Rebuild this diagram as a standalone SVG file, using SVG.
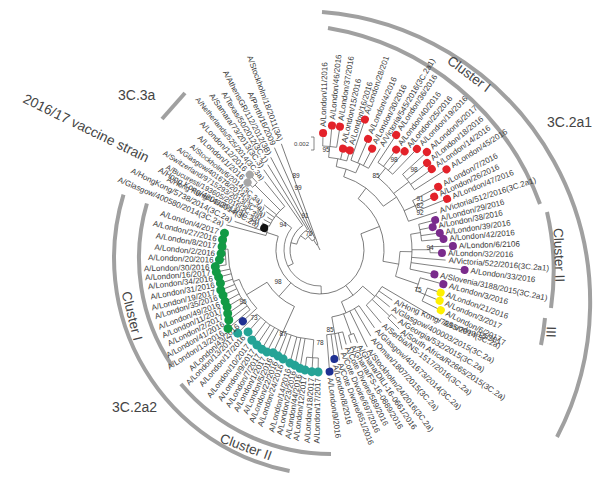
<svg xmlns="http://www.w3.org/2000/svg" width="611" height="488" viewBox="0 0 611 488">
<style>
text{font-family:"Liberation Sans",Arial,sans-serif}
.lb text{font-size:8px;fill:#3a3a3a;dominant-baseline:central}
.lb .f{text-anchor:end}
.lb .s{font-size:7.4px}
.bs text{font-size:6.5px;fill:#333;text-anchor:middle}
.big{font-size:14px;fill:#444}
.r{fill:#e3222a}.p{fill:#7a2b8c}.y{fill:#fff000}.t{fill:#25a396}.g{fill:#129a45}.b{fill:#1f3192}.k{fill:#111}.gr{fill:#a6a6a6}
.bar{fill:none;stroke:#a0a0a0;stroke-width:4}
</style>
<rect width="611" height="488" fill="#fff"/>
<g id="clade-bars" class="bar">
<path d="M322,12 A291,291 0 0 1 557,437"/>
<path d="M328,28 A274,274 0 0 1 540,204"/>
<path d="M547,212 A260,260 0 0 1 551,308"/>
<path d="M545,318 A246,246 0 0 1 541,345"/>
<path d="M289.6,471 A217,217 0 0 1 123.5,194.6"/>
<path d="M171.8,365.4 A192,192 0 0 1 146.9,203.5"/>
<path d="M331,454 A196,196 0 0 1 180.9,384"/>
<path d="M185,93 L162,119"/>
</g>
<g id="connectors" transform="translate(320,250)" fill="none" stroke="#555" stroke-width="0.7">
<circle r="104" pathLength="360" stroke-dasharray="7.7 360" transform="rotate(-88.5)"/>
<circle r="93" pathLength="360" stroke-dasharray="11.35 360" transform="rotate(-84.65)"/>
<circle r="95" pathLength="360" stroke-dasharray="11.7 360" transform="rotate(-71)"/>
<circle r="85" pathLength="360" stroke-dasharray="13.83 360" transform="rotate(-78.98)"/>
<circle r="105" pathLength="360" stroke-dasharray="10.3 360" transform="rotate(-56.5)"/>
<circle r="112" pathLength="360" stroke-dasharray="10 360" transform="rotate(-42.5)"/>
<circle r="105" pathLength="360" stroke-dasharray="6.2 360" transform="rotate(-28.1)"/>
<circle r="93" pathLength="360" stroke-dasharray="33.35 360" transform="rotate(-51.35)"/>
<circle r="77" pathLength="360" stroke-dasharray="37.39 360" transform="rotate(-72.07)"/>
<circle r="102" pathLength="360" stroke-dasharray="9.5 360" transform="rotate(-14.6)"/>
<circle r="110" pathLength="360" stroke-dasharray="3.1 360" transform="rotate(-1.7)"/>
<circle r="92" pathLength="360" stroke-dasharray="21.85 360" transform="rotate(-9.85)"/>
<circle r="114" pathLength="360" stroke-dasharray="7 360" transform="rotate(19.5)"/>
<circle r="104" pathLength="360" stroke-dasharray="7.5 360" transform="rotate(15.5)"/>
<circle r="80" pathLength="360" stroke-dasharray="18.17 360" transform="rotate(1.08)"/>
<circle r="64" pathLength="360" stroke-dasharray="63.55 360" transform="rotate(-53.38)"/>
<circle r="96" pathLength="360" stroke-dasharray="3 360" transform="rotate(42)"/>
<circle r="72" pathLength="360" stroke-dasharray="19.5 360" transform="rotate(30.5)"/>
<circle r="90" pathLength="360" stroke-dasharray="3.5 360" transform="rotate(68)"/>
<circle r="85" pathLength="360" stroke-dasharray="11 360" transform="rotate(74.5)"/>
<circle r="68" pathLength="360" stroke-dasharray="25 360" transform="rotate(55)"/>
<circle r="56" pathLength="360" stroke-dasharray="27.25 360" transform="rotate(40.25)"/>
<circle r="108" pathLength="360" stroke-dasharray="6.2 360" transform="rotate(90.9)"/>
<circle r="90" pathLength="360" stroke-dasharray="40.7 360" transform="rotate(94)"/>
<circle r="95" pathLength="360" stroke-dasharray="19 360" transform="rotate(171)"/>
<circle r="92" pathLength="360" stroke-dasharray="41 360" transform="rotate(139.5)"/>
<circle r="86" pathLength="360" stroke-dasharray="22.7 360" transform="rotate(137.3)"/>
<circle r="62" pathLength="360" stroke-dasharray="34.3 360" transform="rotate(114.35)"/>
<circle r="56" pathLength="360" stroke-dasharray="6.5 360" transform="rotate(195)"/>
<circle r="44" pathLength="360" stroke-dasharray="219.85 360" transform="rotate(-21.6)"/>
<circle r="92" pathLength="360" stroke-dasharray="4 360" transform="rotate(223)"/>
<circle r="56" pathLength="360" stroke-dasharray="26 360" transform="rotate(205)"/>
<circle r="36" pathLength="360" stroke-dasharray="129.7 360" transform="rotate(88.3)"/>
<circle r="30" pathLength="360" stroke-dasharray="81.85 360" transform="rotate(153.15)"/>
<circle r="24" pathLength="360" stroke-dasharray="44.4 360" transform="rotate(194.1)"/>
<circle r="18" pathLength="360" stroke-dasharray="25.7 360" transform="rotate(216.3)"/>
<circle r="12" pathLength="360" stroke-dasharray="16.85 360" transform="rotate(229.15)"/>
<circle r="6" pathLength="360" stroke-dasharray="12.4 360" transform="rotate(237.6)"/>
<line x1="93" x2="104" transform="rotate(-84.65)"/>
<line x1="85" x2="93" transform="rotate(-78.98)"/>
<line x1="85" x2="95" transform="rotate(-65.15)"/>
<line x1="77" x2="85" transform="rotate(-72.07)"/>
<line x1="93" x2="105" transform="rotate(-51.35)"/>
<line x1="93" x2="112" transform="rotate(-37.5)"/>
<line x1="93" x2="105" transform="rotate(-25)"/>
<line x1="77" x2="93" transform="rotate(-34.68)"/>
<line x1="64" x2="77" transform="rotate(-53.38)"/>
<line x1="92" x2="102" transform="rotate(-9.85)"/>
<line x1="92" x2="110" transform="rotate(-0.15)"/>
<line x1="80" x2="92" transform="rotate(1.08)"/>
<line x1="104" x2="114" transform="rotate(23)"/>
<line x1="80" x2="104" transform="rotate(19.25)"/>
<line x1="64" x2="80" transform="rotate(10.17)"/>
<line x1="44" x2="64" transform="rotate(-21.6)"/>
<line x1="72" x2="96" transform="rotate(43.5)"/>
<line x1="56" x2="72" transform="rotate(40.25)"/>
<line x1="68" x2="90" transform="rotate(69.75)"/>
<line x1="68" x2="85" transform="rotate(80)"/>
<line x1="56" x2="68" transform="rotate(67.5)"/>
<line x1="44" x2="56" transform="rotate(53.9)"/>
<line x1="90" x2="108" transform="rotate(94)"/>
<line x1="62" x2="90" transform="rotate(114.35)"/>
<line x1="92" x2="95" transform="rotate(180.5)"/>
<line x1="86" x2="92" transform="rotate(160)"/>
<line x1="62" x2="86" transform="rotate(148.65)"/>
<line x1="44" x2="62" transform="rotate(131.5)"/>
<line x1="44" x2="56" transform="rotate(198.25)"/>
<line x1="36" x2="44" transform="rotate(88.3)"/>
<line x1="56" x2="92" transform="rotate(225)"/>
<line x1="36" x2="56" transform="rotate(218)"/>
<line x1="30" x2="36" transform="rotate(153.15)"/>
<line x1="24" x2="30" transform="rotate(194.1)"/>
<line x1="18" x2="24" transform="rotate(216.3)"/>
<line x1="12" x2="18" transform="rotate(229.15)"/>
<line x1="6" x2="12" transform="rotate(237.6)"/>
<line x1="0" x2="6" transform="rotate(243.8)"/>
<line x1="104" x2="117" transform="rotate(-88.5)"/>
<line x1="104" x2="125" transform="rotate(-84.5)"/>
<line x1="104" x2="125" transform="rotate(-80.8)"/>
<line x1="93" x2="104" transform="rotate(-77.2)"/>
<line x1="93" x2="104" transform="rotate(-73.3)"/>
<line x1="95" x2="138" transform="rotate(-71)"/>
<line x1="95" x2="121" transform="rotate(-66.6)"/>
<line x1="95" x2="114" transform="rotate(-62.8)"/>
<line x1="95" x2="118" transform="rotate(-59.3)"/>
<line x1="105" x2="138" transform="rotate(-56.5)"/>
<line x1="105" x2="126" transform="rotate(-52.8)"/>
<line x1="105" x2="130" transform="rotate(-49.4)"/>
<line x1="105" x2="140" transform="rotate(-46.2)"/>
<line x1="112" x2="145" transform="rotate(-42.5)"/>
<line x1="112" x2="138" transform="rotate(-39.1)"/>
<line x1="112" x2="138" transform="rotate(-35.9)"/>
<line x1="112" x2="150" transform="rotate(-32.5)"/>
<line x1="105" x2="134" transform="rotate(-28.1)"/>
<line x1="105" x2="126" transform="rotate(-25)"/>
<line x1="105" x2="137" transform="rotate(-21.9)"/>
<line x1="93" x2="123" transform="rotate(-18)"/>
<line x1="102" x2="119" transform="rotate(-14.6)"/>
<line x1="102" x2="115" transform="rotate(-11.5)"/>
<line x1="102" x2="121" transform="rotate(-8.1)"/>
<line x1="102" x2="124" transform="rotate(-5.1)"/>
<line x1="110" x2="133" transform="rotate(-1.7)"/>
<line x1="110" x2="122" transform="rotate(1.4)"/>
<line x1="92" x2="126" transform="rotate(4.6)"/>
<line x1="92" x2="146" transform="rotate(7.9)"/>
<line x1="92" x2="117" transform="rotate(12)"/>
<line x1="104" x2="128" transform="rotate(15.5)"/>
<line x1="114" x2="128" transform="rotate(19.5)"/>
<line x1="114" x2="130" transform="rotate(23)"/>
<line x1="114" x2="135" transform="rotate(26.5)"/>
<line x1="72" x2="140" transform="rotate(30.5)"/>
<line x1="72" x2="88" transform="rotate(34.8)"/>
<line x1="72" x2="90" transform="rotate(39.2)"/>
<line x1="96" x2="103" transform="rotate(42)"/>
<line x1="96" x2="112" transform="rotate(45)"/>
<line x1="72" x2="95" transform="rotate(50)"/>
<line x1="68" x2="95" transform="rotate(55)"/>
<line x1="68" x2="100" transform="rotate(59.5)"/>
<line x1="68" x2="108" transform="rotate(64)"/>
<line x1="90" x2="100" transform="rotate(68)"/>
<line x1="90" x2="98" transform="rotate(71.5)"/>
<line x1="85" x2="98" transform="rotate(74.5)"/>
<line x1="85" x2="102" transform="rotate(77.5)"/>
<line x1="85" x2="112" transform="rotate(80)"/>
<line x1="85" x2="110" transform="rotate(82.5)"/>
<line x1="85" x2="122" transform="rotate(85.5)"/>
<line x1="108" x2="122" transform="rotate(90.9)"/>
<line x1="108" x2="122" transform="rotate(93.8)"/>
<line x1="108" x2="121" transform="rotate(97.1)"/>
<line x1="90" x2="120" transform="rotate(99.6)"/>
<line x1="90" x2="118" transform="rotate(102.3)"/>
<line x1="90" x2="117" transform="rotate(104.9)"/>
<line x1="90" x2="115" transform="rotate(108.7)"/>
<line x1="90" x2="114" transform="rotate(111.6)"/>
<line x1="90" x2="113" transform="rotate(114.5)"/>
<line x1="90" x2="115" transform="rotate(117.5)"/>
<line x1="90" x2="115" transform="rotate(120.4)"/>
<line x1="90" x2="114" transform="rotate(123.6)"/>
<line x1="90" x2="113" transform="rotate(127.1)"/>
<line x1="90" x2="109" transform="rotate(131.3)"/>
<line x1="90" x2="117" transform="rotate(134.7)"/>
<line x1="86" x2="105" transform="rotate(137.3)"/>
<line x1="92" x2="121" transform="rotate(139.5)"/>
<line x1="92" x2="115" transform="rotate(142.5)"/>
<line x1="92" x2="112" transform="rotate(145.5)"/>
<line x1="92" x2="109" transform="rotate(148.5)"/>
<line x1="92" x2="108" transform="rotate(151.5)"/>
<line x1="92" x2="107" transform="rotate(155)"/>
<line x1="92" x2="107" transform="rotate(158)"/>
<line x1="92" x2="105" transform="rotate(161.5)"/>
<line x1="92" x2="105" transform="rotate(165)"/>
<line x1="92" x2="106" transform="rotate(168)"/>
<line x1="95" x2="106" transform="rotate(171)"/>
<line x1="95" x2="101" transform="rotate(174.5)"/>
<line x1="95" x2="99" transform="rotate(178)"/>
<line x1="95" x2="98" transform="rotate(182)"/>
<line x1="95" x2="98" transform="rotate(186)"/>
<line x1="95" x2="97" transform="rotate(190)"/>
<line x1="56" x2="97" transform="rotate(195)"/>
<line x1="56" x2="90" transform="rotate(198.5)"/>
<line x1="56" x2="60" transform="rotate(201.5)"/>
<line x1="56" x2="64" transform="rotate(205)"/>
<line x1="56" x2="64" transform="rotate(208.5)"/>
<line x1="56" x2="62" transform="rotate(212)"/>
<line x1="56" x2="66" transform="rotate(215.5)"/>
<line x1="56" x2="72" transform="rotate(219)"/>
<line x1="92" x2="99" transform="rotate(223)"/>
<line x1="92" x2="103" transform="rotate(227)"/>
<line x1="56" x2="88" transform="rotate(231)"/>
<line x1="30" x2="98" transform="rotate(235)"/>
<line x1="24" x2="100" transform="rotate(238.5)"/>
<line x1="18" x2="105" transform="rotate(242)"/>
<line x1="12" x2="112" transform="rotate(246)"/>
<line x1="6" x2="113" transform="rotate(250)"/>
</g>
<g id="leaves" class="lb" transform="translate(320,250)">
<g id="L11-2016" transform="rotate(-88.5)"><circle class="r" cx="117" r="4"/><text x="123">A/London/11/2016</text></g>
<g id="L46-2016" transform="rotate(-84.5)"><circle class="r" cx="125" r="4"/><text x="131">A/London/46/2016</text></g>
<g id="L37-2016" transform="rotate(-80.8)"><circle class="r" cx="125" r="4"/><text x="131">A/London/37/2016</text></g>
<g id="L15-2016" transform="rotate(-77.2)"><circle class="r" cx="104" r="4"/><text x="110">A/London/15/2016</text></g>
<g id="L16-2016" transform="rotate(-73.3)"><circle class="r" cx="104" r="4"/><text x="110">A/London/16/2016</text></g>
<g id="L28-2016" transform="rotate(-71)"><circle class="r" cx="138" r="4"/><text x="144">A/London/28/201</text></g>
<g id="L4-2016" transform="rotate(-66.6)"><circle class="r" cx="121" r="4"/><text x="127">A/London/4/2016</text></g>
<g id="L30-2016" transform="rotate(-62.8)"><circle class="r" cx="114" r="4"/><text x="120">A/London/30/2016</text></g>
<g id="Vic545" transform="rotate(-59.3)"><text x="121">A/Victoria/545/2016(3C.2a1)</text></g>
<g id="L36-2016" transform="rotate(-56.5)"><circle class="r" cx="138" r="4"/><text x="144">A/London/36/2016</text></g>
<g id="L40-2016" transform="rotate(-52.8)"><circle class="r" cx="126" r="4"/><text x="132">A/London/40/2016</text></g>
<g id="L25-2016" transform="rotate(-49.4)"><circle class="r" cx="130" r="4"/><text x="136">A/London/25/2016</text></g>
<g id="L19-2016" transform="rotate(-46.2)"><circle class="r" cx="140" r="4"/><text x="146">A/London/19/2016</text></g>
<g id="L5-2017" transform="rotate(-42.5)"><circle class="r" cx="145" r="4"/><text x="151">A/London/5/2017</text></g>
<g id="L18-2016" transform="rotate(-39.1)"><circle class="r" cx="138" r="4"/><text x="144">A/London/18/2016</text></g>
<g id="L14-2016r" transform="rotate(-35.9)"><circle class="r" cx="138" r="4"/><text x="144">A/London/14/2016</text></g>
<g id="L45-2016" transform="rotate(-32.5)"><circle class="r" cx="150" r="4"/><text x="156">A/London/45/2016</text></g>
<g id="L7-2016" transform="rotate(-28.1)"><circle class="r" cx="134" r="4"/><text x="140">A/London/7/2016</text></g>
<g id="L26-2016" transform="rotate(-25)"><circle class="r" cx="126" r="4"/><text x="132">A/London/26/2016</text></g>
<g id="L47-2016" transform="rotate(-21.9)"><circle class="r" cx="137" r="4"/><text x="143">A/London/47/2016</text></g>
<g id="Vic512" transform="rotate(-18)"><text x="126">A/Victoria/512/2016(3C.2a1)</text></g>
<g id="L29-2016" transform="rotate(-14.6)"><circle class="p" cx="119" r="4"/><text x="125">A/London/29/2016</text></g>
<g id="L38-2016" transform="rotate(-11.5)"><circle class="p" cx="115" r="4"/><text x="121">A/London/38/2016</text></g>
<g id="L39-2016" transform="rotate(-8.1)"><circle class="p" cx="121" r="4"/><text x="127">A/London/39/2016</text></g>
<g id="L42-2016" transform="rotate(-5.1)"><circle class="p" cx="124" r="4"/><text x="130">A/London/42/2016</text></g>
<g id="L6-2106" transform="rotate(-1.7)"><circle class="p" cx="133" r="4"/><text x="139">A/London/6/2106</text></g>
<g id="L32-2016" transform="rotate(1.4)"><circle class="p" cx="122" r="4"/><text x="128">A/London/32/2016</text></g>
<g id="Vic522" transform="rotate(4.6)"><text x="129">A/Victoria/522/2016(3C.2a1)</text></g>
<g id="L33-2016" transform="rotate(7.9)"><circle class="p" cx="146" r="4"/><text x="152">A/London/33/2016</text></g>
<g id="Slovenia" transform="rotate(12)"><circle class="p" cx="117" r="4"/><text x="123">A/Slovenia/3188/2015(3C.2a1)</text></g>
<g id="L3-2016" transform="rotate(15.5)"><circle class="p" cx="128" r="4"/><text x="134">A/London/3/2016</text></g>
<g id="L21-2016" transform="rotate(19.5)"><circle class="y" cx="128" r="4"/><text x="134">A/London/21/2016</text></g>
<g id="L3-2017" transform="rotate(23)"><circle class="y" cx="130" r="4"/><text x="136">A/London/3/2017</text></g>
<g id="L6-2017" transform="rotate(26.5)"><circle class="y" cx="135" r="4"/><text x="141">A/London/6/2017</text></g>
<g id="L15-2017" transform="rotate(30.5)"><text x="143" transform="rotate(-12 143 0)">A/London/15/2017</text></g>
<g id="HK7295" transform="rotate(34.8)"><text x="91" transform="rotate(-12 91 0)">A/Hong Kong/7295/2014(3C.2a)</text></g>
<g id="Glasgow400003" transform="rotate(39.2)"><text x="93" transform="rotate(-12 93 0)">A/Glasgow/400003/2015(3C.2a)</text></g>
<g id="Georgia532" transform="rotate(42)"><text x="106" transform="rotate(-12 106 0)">A/Georgia/532/2015(3C.2a)</text></g>
<g id="SouthAfrica" transform="rotate(45)"><text x="115" transform="rotate(-12 115 0)">A/South Africa/R2665/2015(3C.2a)</text></g>
<g id="Serbia" transform="rotate(50)"><text x="98" transform="rotate(-12 98 0)">A/Serbia/NS-1517/2016(3C.2a)</text></g>
<g id="Glasgow401673" transform="rotate(55)"><text x="98" transform="rotate(-12 98 0)">A/Glasgow/401673/2014(3C.2a)</text></g>
<g id="Oman1807" transform="rotate(59.5)"><text x="103" transform="rotate(-12 103 0)">A/Oman/1807/2015(3C.2a)</text></g>
<g id="Stockholm24" transform="rotate(64)"><text x="111" transform="rotate(-12 111 0)">A/Stockholm/24/2016(3C.2a)</text></g>
<g id="GhanaDILI" transform="rotate(68)"><text x="103" transform="rotate(-12 103 0)">A/Ghana/DILI-16-0661/2016</text></g>
<g id="GhanaFS" transform="rotate(71.5)"><text x="101" transform="rotate(-12 101 0)">A/Ghana/FS-16-0889/2016</text></g>
<g id="Cote589" transform="rotate(74.5)"><text x="101" transform="rotate(-11 101 0)">A/Cote Divoire/589/2016</text></g>
<g id="Cote697" transform="rotate(77.5)"><text x="105" transform="rotate(-11 105 0)">A/Cote Divoire/697/2016</text></g>
<g id="Cote651" transform="rotate(80)"><text x="115" transform="rotate(-11 115 0)">A/Cote Divoire/651/2016</text></g>
<g id="L8-2016" transform="rotate(82.5)"><circle class="b" cx="110" r="4"/><text x="116" transform="rotate(-6 116 0)">A/London/8/2016</text></g>
<g id="L9-2016" transform="rotate(85.5)"><circle class="b" cx="122" r="4"/><text x="128" transform="rotate(-3 128 0)">A/London/9/2016</text></g>
<g id="L17-2017" transform="rotate(90.9)"><circle class="t" cx="122" r="4.5"/><text class="f" transform="rotate(180)" x="-128">A/London/17/2017</text></g>
<g id="L18-2017" transform="rotate(93.8)"><circle class="t" cx="122" r="4.5"/><text class="f" transform="rotate(180)" x="-128">A/London/18/2017</text></g>
<g id="L12-2017" transform="rotate(97.1)"><circle class="t" cx="121" r="4.5"/><text class="f" transform="rotate(180)" x="-127">A/London/12/2017</text></g>
<g id="L44-2016" transform="rotate(99.6)"><circle class="t" cx="120" r="4.5"/><text class="f" transform="rotate(180)" x="-126">A/London/44/2016</text></g>
<g id="L23-2016" transform="rotate(102.3)"><circle class="t" cx="118" r="4.5"/><text class="f" transform="rotate(180)" x="-124">A/London/23/2016</text></g>
<g id="L14-2016t" transform="rotate(104.9)"><circle class="t" cx="117" r="4.5"/><text class="f" transform="rotate(180)" x="-123">A/London/14/2016</text></g>
<g id="L24-2016" transform="rotate(108.7)"><circle class="t" cx="115" r="4.5"/><text class="f" transform="rotate(180)" x="-121">A/London/24/2016</text></g>
<g id="L22-2016" transform="rotate(111.6)"><circle class="t" cx="114" r="4.5"/><text class="f" transform="rotate(180)" x="-120">A/London/22/2016</text></g>
<g id="L5-2016" transform="rotate(114.5)"><circle class="t" cx="113" r="4.5"/><text class="f" transform="rotate(180)" x="-119">A/London/5/2016</text></g>
<g id="L1-2017" transform="rotate(117.5)"><circle class="t" cx="115" r="4.5"/><text class="f" transform="rotate(180)" x="-121">A/London/1/2017</text></g>
<g id="L7-2017" transform="rotate(120.4)"><circle class="t" cx="115" r="4.5"/><text class="f" transform="rotate(180)" x="-121">A/London/7/2017</text></g>
<g id="L9-2017" transform="rotate(123.6)"><circle class="t" cx="114" r="4.5"/><text class="f" transform="rotate(180)" x="-120">A/London/9/2017</text></g>
<g id="L10-2017" transform="rotate(127.1)"><circle class="t" cx="113" r="4.5"/><text class="f" transform="rotate(180)" x="-119">A/London/10/2017</text></g>
<g id="L17-2016" transform="rotate(131.3)"><circle class="t" cx="109" r="4.5"/><text class="f" transform="rotate(180)" x="-115">A/London/17/2016</text></g>
<g id="L13-2017" transform="rotate(134.7)"><circle class="t" cx="117" r="4.5"/><text class="f" transform="rotate(180)" x="-123">A/London/13/2017</text></g>
<g id="L43-2016" transform="rotate(137.3)"><circle class="b" cx="105" r="4"/><text class="f" transform="rotate(180)" x="-111">A/London/43/2016</text></g>
<g id="L13-2016" transform="rotate(139.5)"><circle class="g" cx="121" r="4.5"/><text class="f" transform="rotate(180) rotate(8 -127 0)" x="-127">A/London/13/2016</text></g>
<g id="L41-2016" transform="rotate(142.5)"><circle class="g" cx="115" r="4.5"/><text class="f" transform="rotate(180) rotate(8 -121 0)" x="-121">A/London/41/2016</text></g>
<g id="L2-2017" transform="rotate(145.5)"><circle class="g" cx="112" r="4.5"/><text class="f" transform="rotate(180) rotate(8 -118 0)" x="-118">A/London/2/2017</text></g>
<g id="L11-2017" transform="rotate(148.5)"><circle class="g" cx="109" r="4.5"/><text class="f" transform="rotate(180) rotate(8 -115 0)" x="-115">A/London/11/2017</text></g>
<g id="L49-2016" transform="rotate(151.5)"><circle class="g" cx="108" r="4.5"/><text class="f" transform="rotate(180) rotate(8 -114 0)" x="-114">A/London/49/2016</text></g>
<g id="L35-2016" transform="rotate(155)"><circle class="g" cx="107" r="4.5"/><text class="f" transform="rotate(180) rotate(8 -113 0)" x="-113">A/London/35/2016</text></g>
<g id="L19-2017" transform="rotate(158)"><circle class="g" cx="107" r="4.5"/><text class="f" transform="rotate(180) rotate(8 -113 0)" x="-113">A/London/19/2017</text></g>
<g id="L31-2016" transform="rotate(161.5)"><circle class="g" cx="105" r="4.5"/><text class="f" transform="rotate(180) rotate(8 -111 0)" x="-111">A/London/31/2016</text></g>
<g id="L34-2016" transform="rotate(165)"><circle class="g" cx="105" r="4.5"/><text class="f" transform="rotate(180) rotate(8 -111 0)" x="-111">A/London/34/2016</text></g>
<g id="L16-2017" transform="rotate(168)"><circle class="g" cx="106" r="4.5"/><text class="f" transform="rotate(180) rotate(8 -112 0)" x="-112">A/London/16/2017</text></g>
<g id="L30-2016g" transform="rotate(171)"><circle class="g" cx="106" r="4.5"/><text class="f" transform="rotate(180) rotate(8 -112 0)" x="-112">A/London/30/2016</text></g>
<g id="L20-2016" transform="rotate(174.5)"><circle class="g" cx="101" r="4.5"/><text class="f" transform="rotate(180) rotate(8 -107 0)" x="-107">A/London/20/2016</text></g>
<g id="L2-2016" transform="rotate(178)"><circle class="g" cx="99" r="4.5"/><text class="f" transform="rotate(180) rotate(8 -105 0)" x="-105">A/London/2/2016</text></g>
<g id="L8-2017" transform="rotate(182)"><circle class="g" cx="98" r="4.5"/><text class="f" transform="rotate(180) rotate(8 -104 0)" x="-104">A/London/8/2017</text></g>
<g id="L27-2016" transform="rotate(186)"><circle class="g" cx="98" r="4.5"/><text class="f" transform="rotate(180) rotate(8 -104 0)" x="-104">A/London/27/2016</text></g>
<g id="L4-2017" transform="rotate(190)"><circle class="g" cx="97" r="4.5"/><text class="f" transform="rotate(180) rotate(8 -103 0)" x="-103">A/London/4/2017</text></g>
<g id="Glasgow400580" transform="rotate(195)"><text class="f" transform="rotate(180) rotate(8 -100 0)" x="-100">A/Glasgow/400580/2014(3C.2a)</text></g>
<g id="HK5738" transform="rotate(198.5)"><text class="f" transform="rotate(180) rotate(8 -93 0)" x="-93">A/HongKong/5738/2014(3C.2a)</text></g>
<g id="HK4801" transform="rotate(201.5)"><circle class="k" cx="60" r="4"/><text class="f" transform="rotate(180) rotate(8 -66 0)" x="-66">A/Hong Kong/4801/2014(3C.2a)</text></g>
<g id="HK146" transform="rotate(205)"><text class="f s" transform="rotate(180)" x="-67">A/Hong Kong/146/2013(3C.3a)</text></g>
<g id="Bucuresti" transform="rotate(208.5)"><text class="f s" transform="rotate(180)" x="-67">A/Bucuresti/193605/2016(3C.3a)</text></g>
<g id="Switzerland" transform="rotate(212)"><text class="f s" transform="rotate(180)" x="-65">A/Switzerland/9715293/2013(3C.3a)</text></g>
<g id="Glasgow401678" transform="rotate(215.5)"><text class="f s" transform="rotate(180)" x="-69">A/Glasgow/401678/2014(3C.3a)</text></g>
<g id="Stockholm6" transform="rotate(219)"><text class="f s" transform="rotate(180)" x="-75">A/Stockholm/6/2014(3C.3a)</text></g>
<g id="L1-2016" transform="rotate(223)"><circle class="gr" cx="99" r="4"/><text class="f" transform="rotate(180)" x="-105">A/London/1/2016</text></g>
<g id="L12-2016" transform="rotate(227)"><circle class="gr" cx="103" r="4"/><text class="f" transform="rotate(180)" x="-109">A/London/12/2016</text></g>
<g id="Netherlands" transform="rotate(231)"><text class="f s" transform="rotate(180)" x="-91">A/Netherlands/525/2014(3C.3a)</text></g>
<g id="Samara" transform="rotate(235)"><text class="f" transform="rotate(180)" x="-101">A/Samara/73/2013(3C.3)</text></g>
<g id="Texas" transform="rotate(238.5)"><text class="f" transform="rotate(180)" x="-103">A/Texas/50/2012(3C.1)</text></g>
<g id="AthensGR" transform="rotate(242)"><text class="f" transform="rotate(180)" x="-108">A/AthensGR/112/2012(3B)</text></g>
<g id="Perth" transform="rotate(246)"><text class="f" transform="rotate(180)" x="-115">A/Perth/16/2009</text></g>
<g id="Stockholm18" transform="rotate(250)"><text class="f" transform="rotate(180)" x="-116">A/Stockholm/18/2011(3A)</text></g>
</g>
<g id="bootstrap" class="bs">
<text x="326" y="152">95</text><text x="376" y="178">85</text><text x="394" y="162">98</text><text x="414" y="172">98</text>
<text x="420" y="201">91</text><text x="420" y="208">82</text><text x="420" y="215">92</text><text x="430" y="250">94</text>
<text x="418" y="292">75</text><text x="278" y="284">98</text><text x="309" y="236">70</text><text x="305" y="218">91</text>
<text x="283" y="227">94</text><text x="296" y="178">89</text><text x="298" y="190">99</text><text x="243" y="304">95</text>
<text x="254" y="320">73</text><text x="283" y="336">87</text><text x="330" y="332">85</text><text x="320" y="345">78</text>
</g>
<g id="scale-bar">
<path d="M311,137 H314 V150 H311" fill="none" stroke="#555" stroke-width="0.7"/>
<text x="309" y="146" font-size="6" fill="#444" text-anchor="end">0.002</text>
</g>
<g id="clade-labels" class="big">
<text x="469" y="74" font-size="13.5" text-anchor="middle" dominant-baseline="central" transform="rotate(37 469 74)">Cluster I</text>
<text x="547" y="127">3C.2a1</text>
<text x="559" y="255" font-size="13.5" text-anchor="middle" dominant-baseline="central" transform="rotate(88 559 255)">Cluster II</text>
<text x="551" y="332" font-size="13.5" text-anchor="middle" dominant-baseline="central" transform="rotate(92 551 332)">III</text>
<text x="118" y="100">3C.3a</text>
<text x="22" y="102" font-size="13.8" transform="rotate(26 22 102)">2016/17 vaccine strain</text>
<text x="132" y="316" font-size="13.5" text-anchor="middle" dominant-baseline="central" transform="rotate(76 132 316)">Cluster I</text>
<text x="112" y="412">3C.2a2</text>
<text x="246" y="447" font-size="13.5" text-anchor="middle" dominant-baseline="central" transform="rotate(20 246 447)">Cluster II</text>
</g>
</svg>
